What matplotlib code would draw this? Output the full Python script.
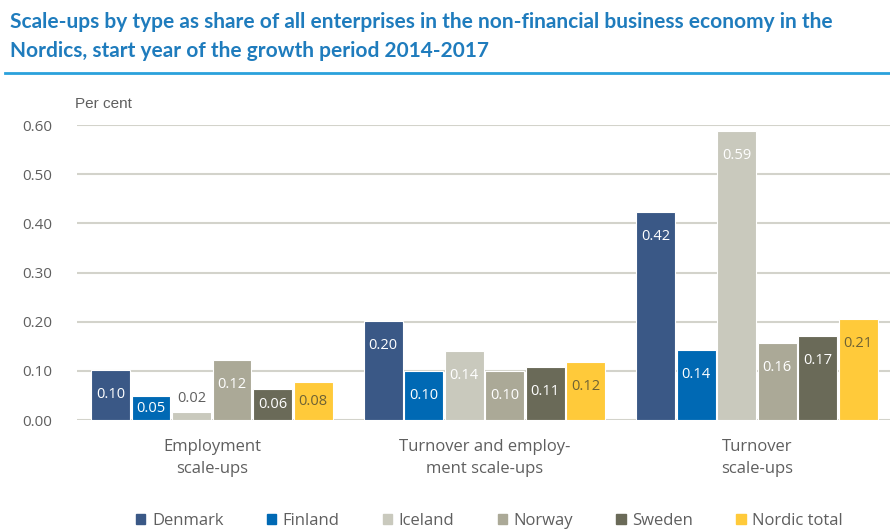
import numpy as np
import matplotlib
matplotlib.use("Agg")
import matplotlib.pyplot as plt
from matplotlib.lines import Line2D

# data
categories = ["Employment\nscale-ups", "Turnover and employ-\nment scale-ups", "Turnover\nscale-ups"]
countries = ["Denmark", "Finland", "Iceland", "Norway", "Sweden", "Nordic total"]
denmark = [0.102, 0.202, 0.424]
finland = [0.048, 0.100, 0.143]
iceland = [0.016, 0.141, 0.588]
norway = [0.122, 0.100, 0.157]
sweden = [0.063, 0.108, 0.171]
nordic = [0.077, 0.118, 0.206]
yticks = [0.0, 0.1, 0.2, 0.3, 0.4, 0.5, 0.6]

series = [denmark, finland, iceland, norway, sweden, nordic]
colors = ["#3a5886", "#0069b4", "#c9c9bd", "#aba997", "#6a6a58", "#ffca3a"]
label_colors = ["white", "white", "white", "white", "white", "#6e6235"]
grey = "#5f5f5f"

plt.rcParams['font.family'] = ['Open Sans', 'DejaVu Sans']

fig = plt.figure(figsize=(8.9, 5.29), dpi=100)
ax = fig.add_axes([0.0865, 0.206, 0.9135, 0.5577])

x = np.arange(len(categories))
step = 0.1486
width = 0.142
for i, vals in enumerate(series):
    pos = x + (i - 2.5) * step
    ax.bar(pos, vals, width, color=colors[i], edgecolor="white", linewidth=0.8, zorder=3)
    for p, v in zip(pos, vals):
        txt = "%.2f" % v
        if v < 0.03:
            ax.text(p, v + 0.027, txt, ha="center", va="center", color=grey, fontsize=10.5, zorder=4)
        else:
            ax.text(p, v - min(0.05, v / 2), txt, ha="center", va="center",
                    color=label_colors[i], fontsize=10.5, zorder=4)

ax.set_xlim(-0.495, 2.488)
ax.set_ylim(0, 0.6)
ax.set_yticks(yticks)
ax.set_yticklabels(["%.2f" % t for t in yticks])
ax.yaxis.grid(True, color="#d3d3cb", linewidth=1.5, zorder=0)
ax.set_axisbelow(True)
for s in ax.spines.values():
    s.set_visible(False)
ax.tick_params(axis="y", length=0, pad=18, labelsize=11, labelcolor=grey)
ax.set_xticks(x)
ax.set_xticklabels(categories, fontsize=12, color=grey, linespacing=1.45)
ax.tick_params(axis="x", length=0, pad=14)

fig.text(0.084, 0.795, "Per cent", fontsize=11, color=grey, family=["Liberation Sans Narrow", "Liberation Sans"])

fig.text(0.011, 0.958, "Scale-ups by type as share of all enterprises in the non-financial business economy in the",
         fontsize=15, fontweight="bold", color="#1f7cbd", va="center", family=["Lato", "DejaVu Sans"])
fig.text(0.011, 0.903, "Nordics, start year of the growth period 2014-2017",
         fontsize=15, fontweight="bold", color="#1f7cbd", va="center", family=["Lato", "DejaVu Sans"])
fig.add_artist(Line2D([0.006, 1.0], [0.862, 0.862], color="#2aa1dc", linewidth=2.0))

handles = [plt.Rectangle((0, 0), 1, 1, color=c) for c in colors]
fig.legend(handles, countries, loc="center", bbox_to_anchor=(0.55, 0.016), ncol=6,
           frameon=False, fontsize=12, labelcolor=grey, handlelength=0.55, handleheight=0.55,
           handletextpad=0.4, columnspacing=2.6)

fig.savefig("out.png", dpi=100)
